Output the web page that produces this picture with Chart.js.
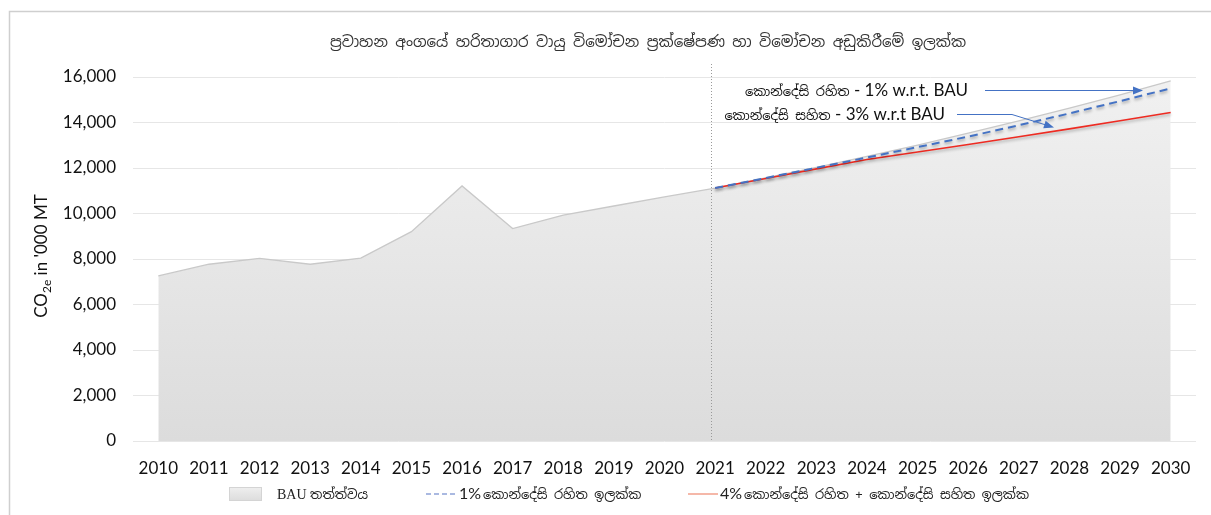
<!doctype html>
<html lang="si">

<head>
    <meta charset="utf-8">
    <title>ප්‍රවාහන අංගයේ හරිතාගාර වායු විමෝචන</title>
    <style>
        html, body { margin: 0; padding: 0; background: #fff; }
    </style>
</head>

<body>
    <canvas id="myChart" width="1211" height="515"></canvas>

    <script src="https://cdn.jsdelivr.net/npm/chart.js"></script>
    <script>
        // data
        const years = ['2010', '2011', '2012', '2013', '2014', '2015', '2016', '2017', '2018', '2019', '2020',
            '2021', '2022', '2023', '2024', '2025', '2026', '2027', '2028', '2029', '2030'];
        const bauValues = [7255, 7770, 8030, 7770, 8040, 9200, 11210, 9340, 9930, 10330, 10730,
            11120, 11565, 12028, 12509, 13009, 13530, 14071, 14634, 15219, 15828];
        const unconditionalValues = [null, null, null, null, null, null, null, null, null, null, null,
            11120, 11560, 12010, 12460, 12920, 13380, 13880, 14400, 14940, 15500];
        const combinedValues = [null, null, null, null, null, null, null, null, null, null, null,
            11120, 11540, 11960, 12370, 12700, 13030, 13370, 13720, 14080, 14440];
        const yTicks = [0, 2000, 4000, 6000, 8000, 10000, 12000, 14000, 16000];
        const splitYear = '2021';

        const chartTitle = 'ප්‍රවාහන අංගයේ හරිතාගාර වායු විමෝචන ප්‍රක්ෂේපණ හා විමෝචන අඩුකිරීමේ ඉලක්ක';
        const legendLabels = ['BAU තත්ත්වය', '1% කොන්දේසි රහිත ඉලක්ක', '4% කොන්දේසි රහිත + කොන්දේසි සහිත ඉලක්ක'];
        const noteLabels = [['කොන්දේසි රහිත', ' - 1% w.r.t. BAU'], ['කොන්දේසි සහිත', ' - 3% w.r.t BAU']];

        const SI_FONT = '"Noto Sans Sinhala", "Noto Sans", sans-serif';
        const LAT_FONT = 'Lato, "Open Sans", sans-serif';

        const BLUE = '#4472c4';
        const RED = '#ee2b22';

        // soft grey fill for the BAU area
        function bauFill(context) {
            const chart = context.chart;
            const area = chart.chartArea;
            if (!area) return '#e6e6e6';
            const g = chart.ctx.createLinearGradient(0, area.top, 0, area.bottom);
            g.addColorStop(0, '#f1f1f1');
            g.addColorStop(1, '#dcdcdc');
            return g;
        }

        const data = {
            labels: years,
            datasets: [{
                label: legendLabels[0],
                data: bauValues,
                fill: 'origin',
                backgroundColor: bauFill,
                borderColor: '#c9c9c9',
                borderWidth: 1.3,
                pointRadius: 0,
                tension: 0,
                order: 3
            }, {
                label: legendLabels[1],
                data: unconditionalValues,
                fill: false,
                borderColor: BLUE,
                borderWidth: 2,
                borderDash: [8, 5],
                pointRadius: 0,
                order: 1
            }, {
                label: legendLabels[2],
                data: combinedValues,
                fill: false,
                borderColor: RED,
                borderWidth: 1.6,
                pointRadius: 0,
                order: 2
            }]
        };

        // little drop shadow under the projection lines
        const lineShadow = {
            id: 'lineShadow',
            beforeDatasetDraw(chart, args) {
                if (args.index === 0) return;
                const ctx = chart.ctx;
                ctx.save();
                ctx.shadowColor = 'rgba(0,0,0,0.3)';
                ctx.shadowBlur = 3;
                ctx.shadowOffsetY = 2;
            },
            afterDatasetDraw(chart, args) {
                if (args.index === 0) return;
                chart.ctx.restore();
            }
        };

        function arrowHead(ctx, x1, y1, x2, y2) {
            const a = Math.atan2(y2 - y1, x2 - x1);
            const len = 10, w = 4;
            ctx.beginPath();
            ctx.moveTo(x2, y2);
            ctx.lineTo(x2 - len * Math.cos(a) + w * Math.sin(a), y2 - len * Math.sin(a) - w * Math.cos(a));
            ctx.lineTo(x2 - len * Math.cos(a) - w * Math.sin(a), y2 - len * Math.sin(a) + w * Math.cos(a));
            ctx.closePath();
            ctx.fill();
        }

        // frame, title, split marker, notes, axis title and legend
        const decorations = {
            id: 'decorations',
            beforeDraw(chart) {
                const ctx = chart.ctx;
                ctx.save();
                ctx.fillStyle = '#fff';
                ctx.fillRect(0, 0, chart.width, chart.height);
                ctx.strokeStyle = '#cfcfcf';
                ctx.lineWidth = 1.5;
                ctx.strokeRect(9.5, 11.5, chart.width + 20, chart.height + 20);
                ctx.restore();
            },
            afterDatasetsDraw(chart) {
                const ctx = chart.ctx;
                const area = chart.chartArea;
                const xs = chart.scales.x;
                ctx.save();

                // vertical dotted line at the base year
                const sx = Math.round(xs.getPixelForValue(years.indexOf(splitYear))) - 3.5;
                ctx.strokeStyle = '#9a9a9a';
                ctx.lineWidth = 1;
                ctx.setLineDash([1, 2]);
                ctx.beginPath();
                ctx.moveTo(sx, 64);
                ctx.lineTo(sx, area.bottom);
                ctx.stroke();
                ctx.setLineDash([]);

                // notes with arrows
                ctx.textBaseline = 'middle';
                const notes = [{ right: 968, y: 91 }, { right: 945, y: 115 }];
                noteLabels.forEach((parts, i) => {
                    const n = notes[i];
                    ctx.font = '17px ' + LAT_FONT;
                    ctx.fillStyle = '#111';
                    ctx.textAlign = 'right';
                    ctx.fillText(parts[1], n.right, n.y);
                    const w = ctx.measureText(parts[1]).width;
                    ctx.font = '13px ' + SI_FONT;
                    ctx.fillText(parts[0], n.right - w, n.y + 1);
                });
                ctx.strokeStyle = BLUE;
                ctx.fillStyle = BLUE;
                ctx.lineWidth = 1;
                ctx.beginPath();
                ctx.moveTo(985, 90.5);
                ctx.lineTo(1134, 90.5);
                ctx.stroke();
                arrowHead(ctx, 985, 90.5, 1143, 90.5);
                ctx.beginPath();
                ctx.moveTo(957, 114.5);
                ctx.lineTo(1012, 114.5);
                ctx.lineTo(1046, 125);
                ctx.stroke();
                arrowHead(ctx, 1012, 114.5, 1054, 127.5);

                // title
                ctx.fillStyle = '#333';
                ctx.textAlign = 'center';
                ctx.font = '15px ' + SI_FONT;
                ctx.fillText(chartTitle, 648, 43);

                // y axis title with subscript
                ctx.translate(42, 256);
                ctx.rotate(-Math.PI / 2);
                ctx.fillStyle = '#111';
                ctx.textAlign = 'left';
                const big = '17px ' + LAT_FONT, small = '12px ' + LAT_FONT;
                ctx.font = big;
                const w1 = ctx.measureText('CO').width;
                ctx.font = small;
                const w2 = ctx.measureText('2e').width;
                ctx.font = big;
                const w3 = ctx.measureText(" in '000 MT").width;
                let px = -(w1 + w2 + w3) / 2;
                ctx.fillText('CO', px, 0);
                px += w1;
                ctx.font = small;
                ctx.fillText('2e', px, 5);
                px += w2;
                ctx.font = big;
                ctx.fillText(" in '000 MT", px, 0);
                ctx.setTransform(1, 0, 0, 1, 0, 0);

                // legend
                const ly = 494;
                const sg = ctx.createLinearGradient(0, ly - 7, 0, ly + 7);
                sg.addColorStop(0, '#efefef');
                sg.addColorStop(1, '#dcdcdc');
                ctx.fillStyle = sg;
                ctx.fillRect(229, ly - 7, 33, 14);
                ctx.strokeStyle = '#d4d4d4';
                ctx.strokeRect(229.5, ly - 6.5, 32, 13);

                ctx.fillStyle = '#222';
                ctx.textAlign = 'left';
                ctx.font = '14px "Liberation Serif", serif';
                ctx.fillText('BAU', 277, ly + 1);
                let tw = ctx.measureText('BAU ').width;
                ctx.font = '13px ' + SI_FONT;
                ctx.fillText(legendLabels[0].slice(4), 277 + tw, ly + 1);

                ctx.strokeStyle = '#8ea3d8';
                ctx.lineWidth = 1.5;
                ctx.setLineDash([5, 3]);
                ctx.beginPath();
                ctx.moveTo(426, ly);
                ctx.lineTo(456, ly);
                ctx.stroke();
                ctx.setLineDash([]);
                ctx.font = '16px ' + LAT_FONT;
                ctx.fillText('1%', 459, ly);
                tw = ctx.measureText('1%').width;
                ctx.font = '13px ' + SI_FONT;
                ctx.fillText(legendLabels[1].slice(3), 459 + tw + 2, ly + 1);

                ctx.strokeStyle = '#f2a08c';
                ctx.lineWidth = 1.5;
                ctx.beginPath();
                ctx.moveTo(688, ly);
                ctx.lineTo(718, ly);
                ctx.stroke();
                ctx.font = '16px ' + LAT_FONT;
                ctx.fillText('4%', 720, ly);
                tw = ctx.measureText('4%').width;
                ctx.font = '13px ' + SI_FONT;
                ctx.fillText(legendLabels[2].slice(3), 720 + tw + 2, ly + 1);

                ctx.restore();
            }
        };

        const config = {
            type: 'line',
            data,
            plugins: [lineShadow, decorations],
            options: {
                responsive: false,
                animation: false,
                layout: {
                    padding: { top: 77, right: 15, bottom: 0, left: 0 }
                },
                plugins: {
                    legend: { display: false },
                    title: { display: false },
                    tooltip: { enabled: false }
                },
                scales: {
                    x: {
                        offset: true,
                        grid: { display: false, drawTicks: false },
                        border: { display: false },
                        ticks: {
                            padding: 17,
                            color: '#111',
                            font: { family: LAT_FONT, size: 17 },
                            maxRotation: 0,
                            autoSkip: false
                        },
                        afterFit: (scale) => { scale.height = 74; }
                    },
                    y: {
                        min: 0,
                        max: 16000,
                        afterBuildTicks: (scale) => {
                            scale.ticks = yTicks.map(v => ({ value: v }));
                        },
                        grid: { color: '#e6e6e6', drawTicks: false },
                        border: { display: false },
                        ticks: {
                            padding: 17,
                            color: '#111',
                            font: { family: LAT_FONT, size: 17 },
                            callback: (v) => v.toLocaleString('en-US')
                        },
                        afterFit: (scale) => { scale.width = 133; }
                    }
                }
            }
        };

        const myChart = new Chart(document.getElementById('myChart'), config);
    </script>
</body>

</html>
